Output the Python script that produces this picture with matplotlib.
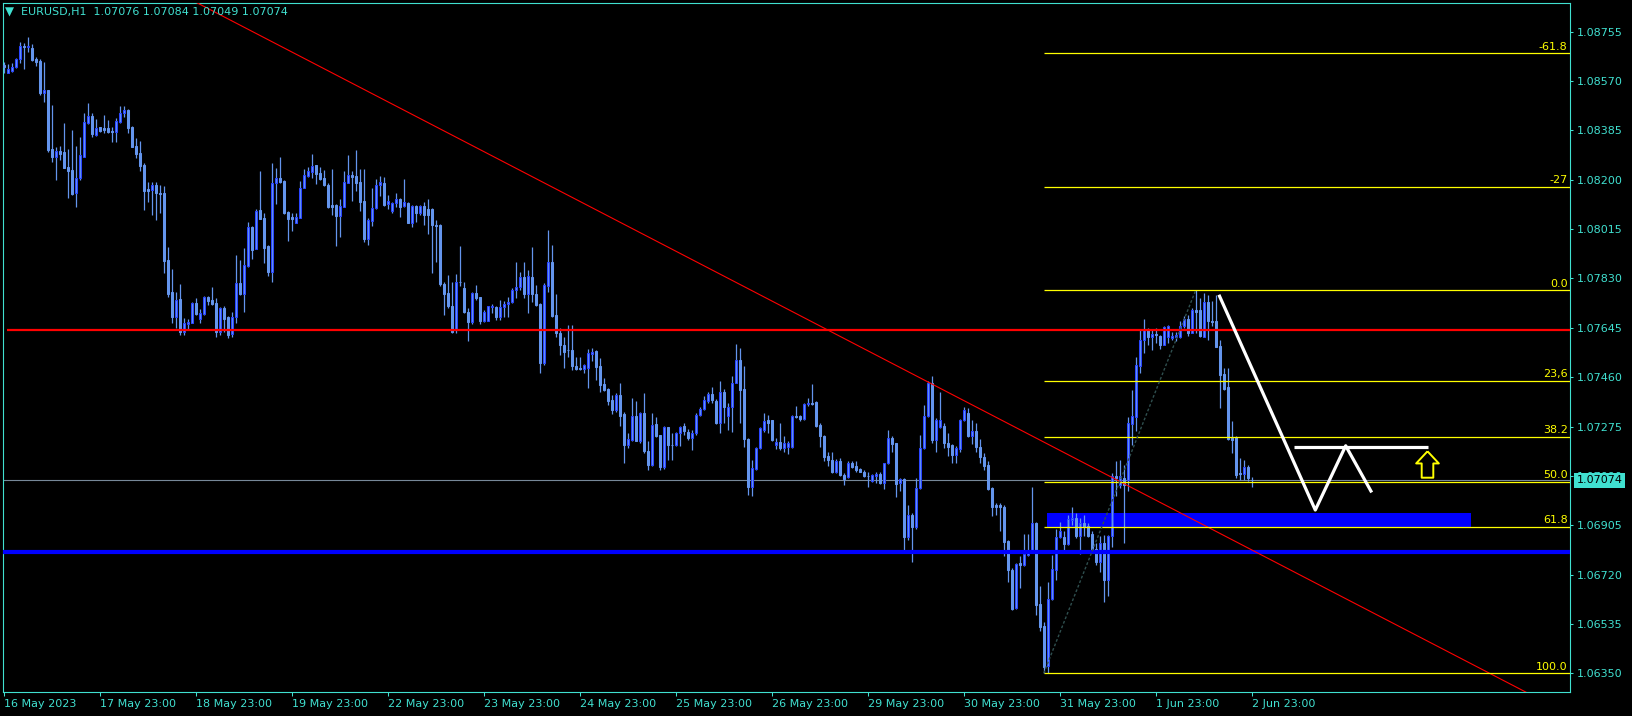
import numpy as np
import matplotlib
matplotlib.use("Agg")
import matplotlib.pyplot as plt
from matplotlib.path import Path
from matplotlib.transforms import blended_transform_factory

# EURUSD H1, 16 May 2023 23:00 .. 2 Jun 2023 23:00 (bar index = hours)
opens = [
    1.08630, 1.08601, 1.08609, 1.08621, 1.08651, 1.08701, 1.08699, 1.08692, 1.08651, 1.08645,
    1.08526, 1.08536, 1.08314, 1.08286, 1.08308, 1.08303, 1.08249, 1.08236, 1.08152, 1.08205,
    1.08286, 1.08414, 1.08439, 1.08368, 1.08396, 1.08394, 1.08394, 1.08383, 1.08378, 1.08418,
    1.08449, 1.08461, 1.08396, 1.08326, 1.08300, 1.08255, 1.08165, 1.08161, 1.08181, 1.08152,
    1.08150, 1.07899, 1.07779, 1.07687, 1.07752, 1.07631, 1.07661, 1.07664, 1.07737, 1.07679,
    1.07696, 1.07761, 1.07749, 1.07737, 1.07631, 1.07721, 1.07684, 1.07622, 1.07684, 1.07812,
    1.07771, 1.07878, 1.08024, 1.07940, 1.08087, 1.08055, 1.07952, 1.07856, 1.08186, 1.08205,
    1.08195, 1.08080, 1.08059, 1.08039, 1.08058, 1.08170, 1.08215, 1.08230, 1.08255, 1.08226,
    1.08205, 1.08180, 1.08104, 1.08106, 1.08066, 1.08099, 1.08189, 1.08217, 1.08214, 1.08192,
    1.08121, 1.07978, 1.08047, 1.08094, 1.08179, 1.08189, 1.08108, 1.08084, 1.08114, 1.08127,
    1.08103, 1.08112, 1.08039, 1.08102, 1.08074, 1.08102, 1.08091, 1.08091, 1.08031, 1.08031,
    1.07810, 1.07775, 1.07727, 1.07635, 1.07818, 1.07793, 1.07706, 1.07665, 1.07775, 1.07760,
    1.07672, 1.07672, 1.07722, 1.07724, 1.07687, 1.07722, 1.07734, 1.07743, 1.07785, 1.07797,
    1.07835, 1.07772, 1.07837, 1.07772, 1.07735, 1.07512, 1.07803, 1.07892, 1.07694, 1.07627,
    1.07581, 1.07562, 1.07560, 1.07502, 1.07495, 1.07490, 1.07496, 1.07547, 1.07559, 1.07502,
    1.07435, 1.07416, 1.07375, 1.07338, 1.07394, 1.07323, 1.07207, 1.07225, 1.07315, 1.07221,
    1.07325, 1.07182, 1.07129, 1.07284, 1.07244, 1.07122, 1.07273, 1.07206, 1.07204, 1.07250,
    1.07278, 1.07256, 1.07231, 1.07250, 1.07319, 1.07340, 1.07369, 1.07398, 1.07369, 1.07290,
    1.07403, 1.07313, 1.07348, 1.07440, 1.07525, 1.07415, 1.07230, 1.07050, 1.07117, 1.07193,
    1.07263, 1.07298, 1.07298, 1.07204, 1.07218, 1.07193, 1.07198, 1.07198, 1.07315, 1.07313,
    1.07303, 1.07358, 1.07363, 1.07366, 1.07280, 1.07240, 1.07163, 1.07150, 1.07104, 1.07146,
    1.07094, 1.07085, 1.07138, 1.07128, 1.07117, 1.07106, 1.07090, 1.07072, 1.07088, 1.07098,
    1.07065, 1.07138, 1.07231, 1.07213, 1.07063, 1.07078, 1.06860, 1.06944, 1.06900, 1.07044,
    1.07194, 1.07313, 1.07438, 1.07223, 1.07273, 1.07278, 1.07215, 1.07206, 1.07169, 1.07190,
    1.07300, 1.07325, 1.07238, 1.07260, 1.07200, 1.07160, 1.07131, 1.07044, 1.06982, 1.06982,
    1.06975, 1.06847, 1.06738, 1.06593, 1.06763, 1.06757, 1.06793, 1.06806, 1.06914, 1.06609,
    1.06528, 1.06378, 1.06628, 1.06738, 1.06860, 1.06860, 1.06835, 1.06925, 1.06932, 1.06863,
    1.06913, 1.06903, 1.06873, 1.06817, 1.06769, 1.06838, 1.06698, 1.06865, 1.07088, 1.07057,
    1.07082, 1.07075, 1.07285, 1.07312, 1.07503, 1.07600, 1.07640, 1.07612, 1.07622, 1.07615,
    1.07581, 1.07610, 1.07606, 1.07610, 1.07610, 1.07650, 1.07679, 1.07627, 1.07712, 1.07710,
    1.07612, 1.07740, 1.07671, 1.07671, 1.07577, 1.07472, 1.07425, 1.07231, 1.07234, 1.07100,
    1.07098, 1.07125, 1.07076,
]
highs = [
    1.08642, 1.08634, 1.08636, 1.08655, 1.08715, 1.08711, 1.08736, 1.08709, 1.08661, 1.08651,
    1.08640, 1.08536, 1.08480, 1.08324, 1.08326, 1.08411, 1.08315, 1.08386, 1.08326, 1.08359,
    1.08449, 1.08486, 1.08449, 1.08426, 1.08399, 1.08443, 1.08424, 1.08399, 1.08430, 1.08476,
    1.08476, 1.08464, 1.08401, 1.08358, 1.08345, 1.08264, 1.08193, 1.08193, 1.08193, 1.08180,
    1.08177, 1.07947, 1.07864, 1.07781, 1.07809, 1.07681, 1.07677, 1.07743, 1.07756, 1.07714,
    1.07766, 1.07764, 1.07797, 1.07756, 1.07724, 1.07727, 1.07689, 1.07706, 1.07918, 1.07899,
    1.07943, 1.08043, 1.08027, 1.08089, 1.08233, 1.08077, 1.07955, 1.08261, 1.08243, 1.08286,
    1.08199, 1.08084, 1.08077, 1.08074, 1.08196, 1.08239, 1.08249, 1.08296, 1.08255, 1.08249,
    1.08236, 1.08186, 1.08239, 1.08108, 1.08127, 1.08231, 1.08293, 1.08234, 1.08312, 1.08241,
    1.08239, 1.08056, 1.08168, 1.08202, 1.08214, 1.08212, 1.08143, 1.08118, 1.08149, 1.08131,
    1.08203, 1.08116, 1.08104, 1.08104, 1.08104, 1.08118, 1.08127, 1.08093, 1.08050, 1.08033,
    1.07815, 1.07843, 1.07818, 1.07847, 1.07952, 1.07818, 1.07718, 1.07781, 1.07806, 1.07762,
    1.07710, 1.07727, 1.07734, 1.07727, 1.07750, 1.07747, 1.07760, 1.07793, 1.07892, 1.07856,
    1.07893, 1.07862, 1.07947, 1.07806, 1.07737, 1.07812, 1.08012, 1.07956, 1.07772, 1.07644,
    1.07612, 1.07656, 1.07656, 1.07537, 1.07537, 1.07510, 1.07565, 1.07569, 1.07562, 1.07531,
    1.07456, 1.07419, 1.07394, 1.07400, 1.07437, 1.07331, 1.07250, 1.07381, 1.07369, 1.07328,
    1.07400, 1.07219, 1.07325, 1.07310, 1.07244, 1.07278, 1.07275, 1.07250, 1.07253, 1.07278,
    1.07288, 1.07265, 1.07263, 1.07325, 1.07348, 1.07388, 1.07406, 1.07425, 1.07378, 1.07444,
    1.07415, 1.07363, 1.07465, 1.07585, 1.07569, 1.07502, 1.07231, 1.07150, 1.07200, 1.07273,
    1.07325, 1.07319, 1.07300, 1.07231, 1.07288, 1.07240, 1.07219, 1.07319, 1.07353, 1.07319,
    1.07363, 1.07381, 1.07434, 1.07369, 1.07288, 1.07244, 1.07178, 1.07181, 1.07153, 1.07156,
    1.07100, 1.07144, 1.07144, 1.07144, 1.07119, 1.07113, 1.07106, 1.07097, 1.07106, 1.07106,
    1.07140, 1.07263, 1.07238, 1.07215, 1.07082, 1.07082, 1.06982, 1.06950, 1.07082, 1.07244,
    1.07356, 1.07444, 1.07465, 1.07306, 1.07406, 1.07288, 1.07250, 1.07210, 1.07203, 1.07303,
    1.07350, 1.07344, 1.07300, 1.07290, 1.07230, 1.07175, 1.07144, 1.07047, 1.06988, 1.06990,
    1.06982, 1.06850, 1.06744, 1.06763, 1.06788, 1.06873, 1.06873, 1.07050, 1.06919, 1.06676,
    1.06544, 1.06694, 1.06794, 1.06892, 1.06919, 1.06882, 1.06944, 1.06975, 1.06950, 1.06932,
    1.06944, 1.06913, 1.06882, 1.06838, 1.06866, 1.06869, 1.06869, 1.07100, 1.07146, 1.07150,
    1.07130, 1.07312, 1.07412, 1.07534, 1.07637, 1.07677, 1.07644, 1.07637, 1.07644, 1.07619,
    1.07652, 1.07656, 1.07631, 1.07631, 1.07669, 1.07690, 1.07694, 1.07719, 1.07786, 1.07756,
    1.07775, 1.07769, 1.07747, 1.07769, 1.07600, 1.07494, 1.07494, 1.07294, 1.07238, 1.07156,
    1.07150, 1.07131, 1.07084,
]
lows = [
    1.08601, 1.08599, 1.08605, 1.08617, 1.08636, 1.08615, 1.08680, 1.08645, 1.08627, 1.08517,
    1.08492, 1.08305, 1.08268, 1.08199, 1.08274, 1.08243, 1.08133, 1.08143, 1.08099, 1.08199,
    1.08284, 1.08409, 1.08359, 1.08364, 1.08380, 1.08374, 1.08376, 1.08343, 1.08343, 1.08414,
    1.08434, 1.08374, 1.08321, 1.08280, 1.08234, 1.08087, 1.08118, 1.08068, 1.08049, 1.08077,
    1.07849, 1.07762, 1.07664, 1.07643, 1.07618, 1.07618, 1.07637, 1.07662, 1.07693, 1.07662,
    1.07693, 1.07731, 1.07731, 1.07612, 1.07618, 1.07631, 1.07606, 1.07612, 1.07662, 1.07768,
    1.07706, 1.07874, 1.07902, 1.07939, 1.08053, 1.07889, 1.07841, 1.07818, 1.08109, 1.08186,
    1.08072, 1.07972, 1.08009, 1.08037, 1.08055, 1.08168, 1.08211, 1.08205, 1.08184, 1.08200,
    1.08177, 1.08095, 1.08068, 1.07952, 1.07987, 1.08097, 1.08187, 1.08122, 1.08156, 1.08081,
    1.07968, 1.07956, 1.08027, 1.08091, 1.08139, 1.08103, 1.08091, 1.08074, 1.08099, 1.08062,
    1.08099, 1.08037, 1.08022, 1.08043, 1.08068, 1.08031, 1.07997, 1.07850, 1.07893, 1.07800,
    1.07694, 1.07718, 1.07627, 1.07627, 1.07800, 1.07700, 1.07597, 1.07660, 1.07750, 1.07659,
    1.07665, 1.07669, 1.07700, 1.07675, 1.07675, 1.07685, 1.07687, 1.07737, 1.07756, 1.07787,
    1.07756, 1.07700, 1.07743, 1.07728, 1.07477, 1.07506, 1.07781, 1.07687, 1.07612, 1.07544,
    1.07494, 1.07535, 1.07487, 1.07487, 1.07487, 1.07475, 1.07419, 1.07519, 1.07450, 1.07406,
    1.07410, 1.07356, 1.07323, 1.07331, 1.07278, 1.07138, 1.07194, 1.07219, 1.07219, 1.07213,
    1.07175, 1.07113, 1.07128, 1.07235, 1.07113, 1.07115, 1.07150, 1.07150, 1.07203, 1.07203,
    1.07244, 1.07225, 1.07188, 1.07244, 1.07315, 1.07338, 1.07365, 1.07363, 1.07285, 1.07250,
    1.07288, 1.07263, 1.07256, 1.07438, 1.07290, 1.07200, 1.07017, 1.07015, 1.07113, 1.07190,
    1.07256, 1.07250, 1.07219, 1.07190, 1.07188, 1.07181, 1.07171, 1.07194, 1.07306, 1.07294,
    1.07300, 1.07353, 1.07356, 1.07275, 1.07200, 1.07144, 1.07128, 1.07100, 1.07100, 1.07090,
    1.07054, 1.07081, 1.07119, 1.07106, 1.07103, 1.07085, 1.07050, 1.07068, 1.07063, 1.07060,
    1.07040, 1.07135, 1.07181, 1.07010, 1.07032, 1.06813, 1.06850, 1.06769, 1.06890, 1.07040,
    1.07190, 1.07310, 1.07213, 1.07181, 1.07269, 1.07196, 1.07163, 1.07140, 1.07140, 1.07178,
    1.07294, 1.07234, 1.07210, 1.07180, 1.07140, 1.07113, 1.07038, 1.06938, 1.06944, 1.06882,
    1.06788, 1.06694, 1.06586, 1.06591, 1.06669, 1.06753, 1.06788, 1.06803, 1.06569, 1.06507,
    1.06350, 1.06353, 1.06626, 1.06701, 1.06857, 1.06813, 1.06830, 1.06907, 1.06857, 1.06798,
    1.06863, 1.06860, 1.06807, 1.06757, 1.06728, 1.06616, 1.06641, 1.06823, 1.07013, 1.07044,
    1.06840, 1.07032, 1.07206, 1.07260, 1.07475, 1.07550, 1.07581, 1.07562, 1.07587, 1.07565,
    1.07579, 1.07587, 1.07600, 1.07597, 1.07606, 1.07644, 1.07615, 1.07625, 1.07625, 1.07612,
    1.07610, 1.07600, 1.07650, 1.07572, 1.07344, 1.07412, 1.07225, 1.07175, 1.07082, 1.07075,
    1.07075, 1.07069, 1.07049,
]
closes = [
    1.08624, 1.08615, 1.08621, 1.08651, 1.08701, 1.08696, 1.08701, 1.08649, 1.08642, 1.08526,
    1.08536, 1.08311, 1.08286, 1.08308, 1.08298, 1.08245, 1.08234, 1.08147, 1.08205, 1.08293,
    1.08416, 1.08439, 1.08371, 1.08394, 1.08383, 1.08386, 1.08380, 1.08378, 1.08420, 1.08449,
    1.08461, 1.08395, 1.08324, 1.08296, 1.08253, 1.08159, 1.08158, 1.08180, 1.08149, 1.08148,
    1.07897, 1.07772, 1.07687, 1.07749, 1.07631, 1.07664, 1.07667, 1.07737, 1.07696, 1.07699,
    1.07761, 1.07747, 1.07734, 1.07631, 1.07721, 1.07677, 1.07618, 1.07687, 1.07812, 1.07772,
    1.07879, 1.08024, 1.07937, 1.08083, 1.08053, 1.07945, 1.07856, 1.08186, 1.08205, 1.08193,
    1.08074, 1.08053, 1.08053, 1.08059, 1.08168, 1.08218, 1.08233, 1.08251, 1.08221, 1.08203,
    1.08180, 1.08099, 1.08099, 1.08066, 1.08102, 1.08192, 1.08217, 1.08212, 1.08189, 1.08118,
    1.07978, 1.08049, 1.08093, 1.08179, 1.08192, 1.08106, 1.08121, 1.08112, 1.08127, 1.08099,
    1.08117, 1.08039, 1.08102, 1.08077, 1.08102, 1.08068, 1.08068, 1.08031, 1.08027, 1.07810,
    1.07772, 1.07725, 1.07631, 1.07818, 1.07815, 1.07706, 1.07665, 1.07775, 1.07758, 1.07671,
    1.07704, 1.07725, 1.07727, 1.07687, 1.07722, 1.07734, 1.07743, 1.07787, 1.07797, 1.07835,
    1.07772, 1.07838, 1.07772, 1.07731, 1.07512, 1.07806, 1.07892, 1.07690, 1.07625, 1.07579,
    1.07556, 1.07560, 1.07502, 1.07490, 1.07490, 1.07506, 1.07550, 1.07556, 1.07500, 1.07431,
    1.07412, 1.07369, 1.07338, 1.07394, 1.07315, 1.07207, 1.07229, 1.07315, 1.07221, 1.07325,
    1.07182, 1.07132, 1.07280, 1.07238, 1.07122, 1.07273, 1.07204, 1.07204, 1.07250, 1.07275,
    1.07260, 1.07231, 1.07250, 1.07319, 1.07340, 1.07375, 1.07398, 1.07373, 1.07290, 1.07405,
    1.07348, 1.07348, 1.07438, 1.07525, 1.07412, 1.07228, 1.07050, 1.07119, 1.07194, 1.07268,
    1.07294, 1.07290, 1.07223, 1.07218, 1.07194, 1.07213, 1.07215, 1.07315, 1.07309, 1.07303,
    1.07359, 1.07363, 1.07359, 1.07278, 1.07238, 1.07159, 1.07148, 1.07103, 1.07146, 1.07092,
    1.07079, 1.07138, 1.07125, 1.07113, 1.07105, 1.07088, 1.07088, 1.07094, 1.07098, 1.07065,
    1.07138, 1.07231, 1.07210, 1.07060, 1.07078, 1.06860, 1.06944, 1.06900, 1.07044, 1.07194,
    1.07313, 1.07438, 1.07223, 1.07300, 1.07300, 1.07213, 1.07200, 1.07169, 1.07194, 1.07300,
    1.07338, 1.07238, 1.07260, 1.07200, 1.07160, 1.07128, 1.07042, 1.06975, 1.06975, 1.06972,
    1.06844, 1.06738, 1.06592, 1.06761, 1.06756, 1.06797, 1.06806, 1.06914, 1.06607, 1.06522,
    1.06373, 1.06628, 1.06741, 1.06860, 1.06884, 1.06833, 1.06928, 1.06932, 1.06863, 1.06913,
    1.06900, 1.06865, 1.06813, 1.06769, 1.06838, 1.06698, 1.06865, 1.07088, 1.07082, 1.07088,
    1.07057, 1.07287, 1.07315, 1.07505, 1.07600, 1.07640, 1.07612, 1.07622, 1.07619, 1.07581,
    1.07647, 1.07652, 1.07615, 1.07619, 1.07652, 1.07677, 1.07627, 1.07712, 1.07704, 1.07615,
    1.07741, 1.07669, 1.07666, 1.07572, 1.07469, 1.07416, 1.07229, 1.07225, 1.07094, 1.07096,
    1.07123, 1.07082, 1.07074,
]

date_labels = ["16 May 2023", "17 May 23:00", "18 May 23:00", "19 May 23:00",
               "22 May 23:00", "23 May 23:00", "24 May 23:00", "25 May 23:00",
               "26 May 23:00", "29 May 23:00", "30 May 23:00", "31 May 23:00",
               "1 Jun 23:00", "2 Jun 23:00"]
price_ticks = [1.08755, 1.08570, 1.08385, 1.08200, 1.08015, 1.07830, 1.07645,
               1.07460, 1.07275, 1.07090, 1.06905, 1.06720, 1.06535, 1.06350]

# drawn objects
resist_level = 1.07635         # red horizontal
support_level = 1.06803        # thick blue horizontal
zone_bars = [260.8, 366.8]     # blue box
zone_prices = [1.06899, 1.06952]
trend_bars = [40, 390]         # red trend line
trend_prices = [1.08928, 1.06206]
fib_bars = [260, 298]          # fib from low to high
fib_prices = [1.06350, 1.07786]
fib_levels = [-61.8, -27, 0.0, 23.6, 38.2, 50.0, 61.8, 100.0]
fib_texts = ["-61.8", "-27", "0.0", "23,6", "38.2", "50.0", "61.8", "100.0"]
path_bars = [303.8, 327.9, 335.5, 342.0]       # white zigzag
path_prices = [1.07769, 1.06962, 1.07203, 1.07028]
target_bars = [322.7, 356.0]
target_price = 1.07200
arrow_bar = 355.8
arrow_price = 1.07135

# style
FG = "#40E0D0"
CANDLE = "#6495ED"
BULL_EDGE = "#2A45FF"
plt.rcParams.update({"font.family": "DejaVu Sans", "font.size": 8})

W, H = 1633, 716
fig = plt.figure(figsize=(W / 100, H / 100), dpi=100, facecolor="black")
ax = fig.add_axes([3 / W, 24.3 / H, 1566.7 / W, 688.7 / H], facecolor="black")

o = np.array(opens); h = np.array(highs); l = np.array(lows); c = np.array(closes)
x = np.arange(len(c))
up = c >= o
lo = np.minimum(o, c)
ht = np.maximum(np.abs(c - o), 1e-6)

ax.vlines(x, l, h, color=CANDLE, lw=0.9, zorder=3)
ax.bar(x[~up], ht[~up], bottom=lo[~up], width=0.55, color=CANDLE,
       edgecolor=CANDLE, lw=0.75, zorder=4)
ax.bar(x[up], ht[up], bottom=lo[up], width=0.55, color=CANDLE,
       edgecolor=BULL_EDGE, lw=0.75, zorder=4)

XMAX = 391.5
# horizontal lines
ax.axhline(c[-1], color="#778899", lw=0.8, zorder=2)
ax.hlines(resist_level, 0.9, XMAX, color="#FF0000", lw=1.6, zorder=5)
ax.axhline(support_level, color="#0000FF", lw=3.0, zorder=5)
ax.fill_between(zone_bars, zone_prices[0], zone_prices[1], color="#0000FF",
                lw=0, zorder=2)

# trend line
ax.plot(trend_bars, trend_prices, color="#FF0000", lw=0.8, zorder=5)

# fibonacci
f_lo, f_hi = fib_prices
for lvl, txt in zip(fib_levels, fib_texts):
    p = f_hi - lvl / 100.0 * (f_hi - f_lo)
    ax.hlines(p, fib_bars[0], XMAX, color="#FFFF00", lw=0.9, zorder=6)
    ax.text(XMAX - 0.5, p + 0.00006, txt, color="#FFFF00", ha="right",
            va="bottom", fontsize=8, zorder=7)
ax.plot(fib_bars, fib_prices, color="#2F4F4F", lw=1.0, ls=(0, (2, 1.5)), zorder=6)

# projection
ax.plot(path_bars, path_prices, color="white", lw=2.3, zorder=8,
        solid_capstyle="butt")
ax.hlines(target_price, target_bars[0], target_bars[1], color="white", lw=2.3,
          zorder=8)
arrow = Path([(0, 0.5), (0.43, 0.04), (0.22, 0.04), (0.22, -0.5),
              (-0.22, -0.5), (-0.22, 0.04), (-0.43, 0.04), (0, 0.5)])
ax.plot([arrow_bar], [arrow_price], marker=arrow, ms=19, mfc="black",
        mec="#FFFF00", mew=1.4, zorder=9)

ax.set_xlim(-0.175, XMAX)
ax.set_ylim(1.062811, 1.088625)

# axes
ax.yaxis.tick_right()
ax.set_yticks(price_ticks)
ax.set_yticklabels([f"{p:.5f}" for p in price_ticks])
ax.set_xticks(np.arange(len(date_labels)) * 24)
ax.set_xticklabels(date_labels, ha="left")
ax.tick_params(axis="y", colors=FG, length=2.4, width=0.75, pad=2.5, labelsize=8)
ax.tick_params(axis="x", colors=FG, length=3, width=0.75, pad=2.5, labelsize=8)
for s in ax.spines.values():
    s.set_color(FG)
    s.set_linewidth(0.8)

tr = blended_transform_factory(ax.transAxes, ax.transData)
ax.annotate(f"{c[-1]:.5f}", xy=(1.0, c[-1]), xycoords=tr, xytext=(4.8, 0),
            textcoords="offset points", ha="left", va="center", color="black",
            fontsize=8, annotation_clip=False, zorder=20,
            bbox=dict(boxstyle="square,pad=0.22", fc=FG, ec="none"))

fig.text(5 / W, 1 - 12.5 / H, "\u25BC", color=FG, fontsize=8.5, va="center")
fig.text(21 / W, 1 - 12.5 / H,
         f"EURUSD,H1  {o[-1]:.5f} {h[-1]:.5f} {l[-1]:.5f} {c[-1]:.5f}",
         color=FG, fontsize=8, va="center")

fig.savefig("out.png", dpi=100, facecolor="black")
